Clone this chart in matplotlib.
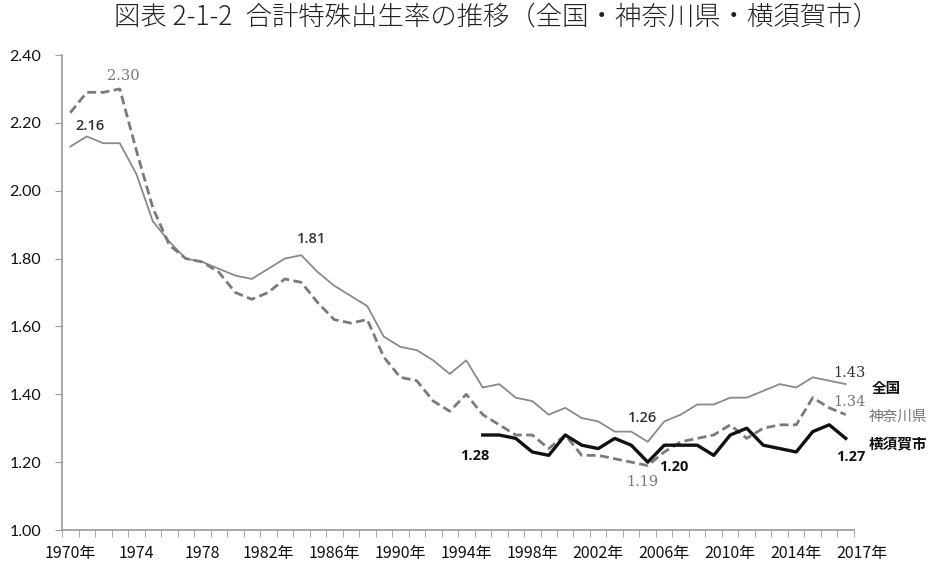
"""
合計特殊出生率の推移（全国・神奈川県・横須賀市）
"""
import numpy as np
import matplotlib
matplotlib.use("Agg")
import matplotlib.pyplot as plt

plt.rcParams['font.family'] = ['Noto Sans CJK JP', 'DejaVu Sans']

years = list(range(1970, 2018))
national = [2.13, 2.16, 2.14, 2.14, 2.05, 1.91, 1.85, 1.80, 1.79, 1.77,
            1.75, 1.74, 1.77, 1.80, 1.81, 1.76, 1.72, 1.69, 1.66, 1.57,
            1.54, 1.53, 1.50, 1.46, 1.50, 1.42, 1.43, 1.39, 1.38, 1.34,
            1.36, 1.33, 1.32, 1.29, 1.29, 1.26, 1.32, 1.34, 1.37, 1.37,
            1.39, 1.39, 1.41, 1.43, 1.42, 1.45, 1.44, 1.43]
kanagawa = [2.23, 2.29, 2.29, 2.30, 2.12, 1.95, 1.84, 1.80, 1.79, 1.76,
            1.70, 1.68, 1.70, 1.74, 1.73, 1.67, 1.62, 1.61, 1.62, 1.51,
            1.45, 1.44, 1.38, 1.35, 1.40, 1.34, 1.31, 1.28, 1.28, 1.24,
            1.28, 1.22, 1.22, 1.21, 1.20, 1.19, 1.23, 1.26, 1.27, 1.28,
            1.31, 1.27, 1.30, 1.31, 1.31, 1.39, 1.36, 1.34]
yoko_years = list(range(1995, 2018))
yokosuka = [1.28, 1.28, 1.27, 1.23, 1.22, 1.28, 1.25, 1.24, 1.27, 1.25,
            1.20, 1.25, 1.25, 1.25, 1.22, 1.28, 1.30, 1.25, 1.24, 1.23,
            1.29, 1.31, 1.27]

label_years = [1970, 1974, 1978, 1982, 1986, 1990, 1994, 1998, 2002, 2006, 2010, 2014]
label_text = ['1970年', '1974', '1978', '1982年', '1986年', '1990年', '1994年',
              '1998年', '2002年', '2006年', '2010年', '2014年']

xi = np.arange(len(years))
xy = np.array([years.index(y) for y in yoko_years])

fig = plt.figure(figsize=(9.37, 5.63), dpi=100)
ax = fig.add_axes([0.0662, 0.0586, 0.8452, 0.8437])

ax.plot(xi, national, color='#8a8a8a', lw=1.3)
ax.plot(xi, kanagawa, color='#7a7a7a', lw=2.0, ls=(0, (3.2, 1.6)))
ax.plot(xy, yokosuka, color='#111111', lw=2.4)

ax.set_xlim(-0.5, 47.5)
ax.set_ylim(1.0, 2.4)
ax.set_yticks(np.arange(1.0, 2.41, 0.2))
ax.set_yticklabels([f'{v:.2f}' for v in np.arange(1.0, 2.41, 0.2)],
                   fontsize=11.5, color='#111111', family=['Lato', 'DejaVu Sans'])
ax.set_xticks([years.index(y) for y in label_years])
ax.set_xticklabels(label_text, fontsize=11.5, color='#111111')
ax.set_xticks(np.arange(-0.5, 48, 1), minor=True)
ax.tick_params(axis='x', which='major', length=0, pad=11)
ax.tick_params(axis='x', which='minor', length=5, color='#999999', direction='out')
ax.tick_params(axis='y', length=5, color='#999999', pad=10)
# 最後のラベルは軸の外側に置かれている
ax.annotate('2017年', xy=(48.0, 0), xycoords=ax.get_xaxis_transform(),
            xytext=(0, -11), textcoords='offset points',
            ha='center', va='top', fontsize=11.5, color='#111111')

for s in ['top', 'right']:
    ax.spines[s].set_visible(False)
for s in ['left', 'bottom']:
    ax.spines[s].set_color('#999999')
    ax.spines[s].set_linewidth(1.2)

fig.suptitle('図表 2-1-2\u2002合計特殊出生率の推移（全国・神奈川県・横須賀市）',
             x=0.530, y=0.995, fontsize=19, color='#222222', va='top',
             fontweight='light')

serif = ['DejaVu Serif']
sans = ['Open Sans', 'DejaVu Sans']
ax.text(1.2, 2.19, '2.16', fontsize=10.5, color='#333333', family=sans,
        fontweight='semibold', ha='center', va='center')
ax.text(3.2, 2.338, '2.30', fontsize=10.5, color='#777777', family=serif, ha='center', va='center')
ax.text(14.6, 1.859, '1.81', fontsize=10.5, color='#333333', family=sans,
        fontweight='semibold', ha='center', va='center')
ax.text(34.7, 1.329, '1.26', fontsize=10.5, color='#333333', family=sans,
        fontweight='semibold', ha='center', va='center')
ax.text(34.7, 1.141, '1.19', fontsize=10.5, color='#777777', family=serif, ha='center', va='center')
ax.text(36.6, 1.185, '1.20', fontsize=10.5, color='#111111', family=sans,
        fontweight='bold', ha='center', va='center')
ax.text(24.5, 1.218, '1.28', fontsize=10.5, color='#111111', family=sans,
        fontweight='bold', ha='center', va='center')
ax.text(47.3, 1.215, '1.27', fontsize=10.5, color='#111111', family=sans,
        fontweight='bold', ha='center', va='center')
ax.text(47.2, 1.462, '1.43', fontsize=10.5, color='#333333', family=serif, ha='center', va='center')
ax.text(47.2, 1.376, '1.34', fontsize=10.5, color='#777777', family=serif, ha='center', va='center')
ax.text(48.6, 1.418, '全国', fontsize=10.5, color='#111111', fontweight='bold', ha='left', va='center')
ax.text(48.4, 1.332, '神奈川県', fontsize=10.5, color='#777777', ha='left', va='center')
ax.text(48.4, 1.256, '横須賀市', fontsize=10.5, color='#111111', fontweight='bold', ha='left', va='center')

plt.savefig('out.png', dpi=100)
